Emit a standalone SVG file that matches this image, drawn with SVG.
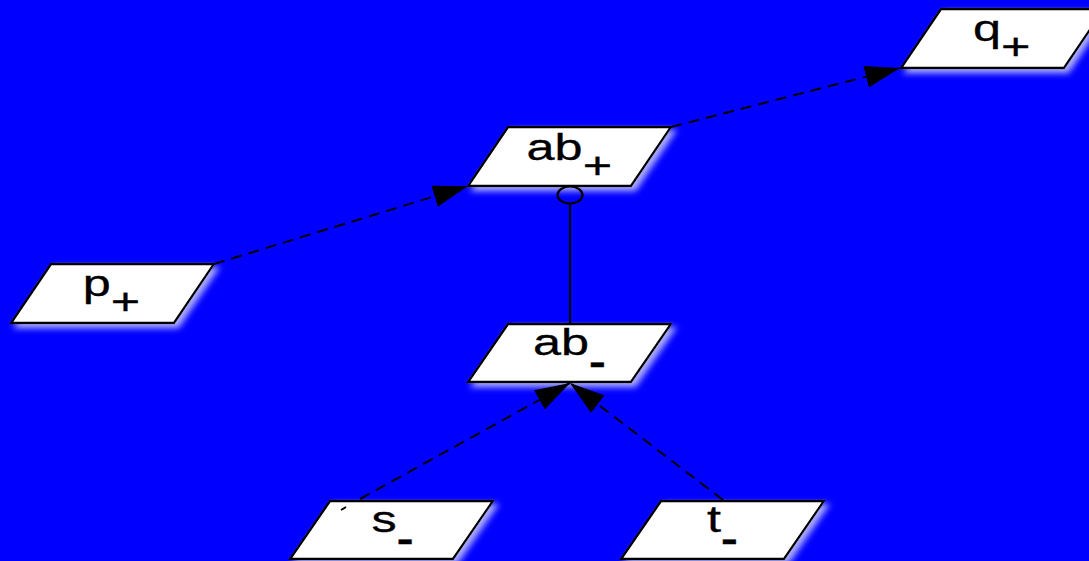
<svg xmlns="http://www.w3.org/2000/svg" width="1089" height="561" viewBox="0 0 1089 561">
<style>
.node{fill:#ffffff;stroke:#000000;stroke-width:2.3;stroke-linejoin:miter;filter:url(#sh)}
.lbl{font-family:"Liberation Sans",Arial,sans-serif;font-size:36px;fill:#000000;stroke:#000000;stroke-width:0.3}
.mn{font-weight:bold}
.dash{fill:none;stroke:#000000;stroke-width:2;stroke-dasharray:11,7}
.solid{fill:none;stroke:#000000;stroke-width:2.2}
</style>
<defs>
<filter id="sh" x="-10%" y="-20%" width="130%" height="160%">
<feDropShadow dx="4" dy="4" stdDeviation="3" flood-color="#d8d8ff" flood-opacity="0.8"/>
</filter>
<marker id="arr" markerUnits="userSpaceOnUse" markerWidth="36" markerHeight="24" refX="35" refY="11" orient="auto">
<path d="M0,0 L35,11 L0,22 Z" fill="#000000"/>
</marker>
</defs>
<rect x="0" y="0" width="1089" height="561" fill="#0000ff"/>
<g id="node-abplus">
<polygon class="node" points="508,127 671,127 631,186 468,186"/>
<text class="lbl" transform="translate(526.6,160) scale(1.4,1)">ab<tspan dy="18">+</tspan></text>
</g>
<g id="node-abminus">
<polygon class="node" points="508,324 671,324 631,382 468,382"/>
<text class="lbl" transform="translate(533,355) scale(1.4,1)">ab<tspan class="mn" dy="19">-</tspan></text>
</g>
<g id="node-pplus">
<polygon class="node" points="51,264 214,264 174,323 11,323"/>
<text class="lbl" transform="translate(82.7,296) scale(1.4,1)">p<tspan dy="18">+</tspan></text>
</g>
<g id="node-qplus">
<polygon class="node" points="941,9 1104,9 1064,68 901,68"/>
<text class="lbl" transform="translate(973,41) scale(1.4,1)">q<tspan dy="18">+</tspan></text>
</g>
<g id="node-sminus">
<polygon class="node" points="330,501 493,501 453,559 290,559"/>
<text class="lbl" transform="translate(371.5,532) scale(1.4,1)">s<tspan class="mn" dy="19">-</tspan></text>
</g>
<g id="node-tminus">
<polygon class="node" points="661,501 824,501 784,559 621,559"/>
<text class="lbl" transform="translate(707,532) scale(1.4,1)">t<tspan class="mn" dy="19">-</tspan></text>
</g>
<g id="connectors">
<path class="dash" d="M214,264 L468,186" marker-end="url(#arr)"/>
<path class="dash" d="M671,127 L900,68" marker-end="url(#arr)"/>
<path class="dash" d="M341,510 L346,507 M360,499 L570,383" marker-end="url(#arr)"/>
<path class="dash" d="M723,500 L570,383" marker-end="url(#arr)"/>
<line class="solid" x1="570" y1="204" x2="570" y2="324"/>
<ellipse cx="570" cy="195" rx="12.5" ry="8.5" fill="none" stroke="#000000" stroke-width="2.2"/>
</g>
</svg>
